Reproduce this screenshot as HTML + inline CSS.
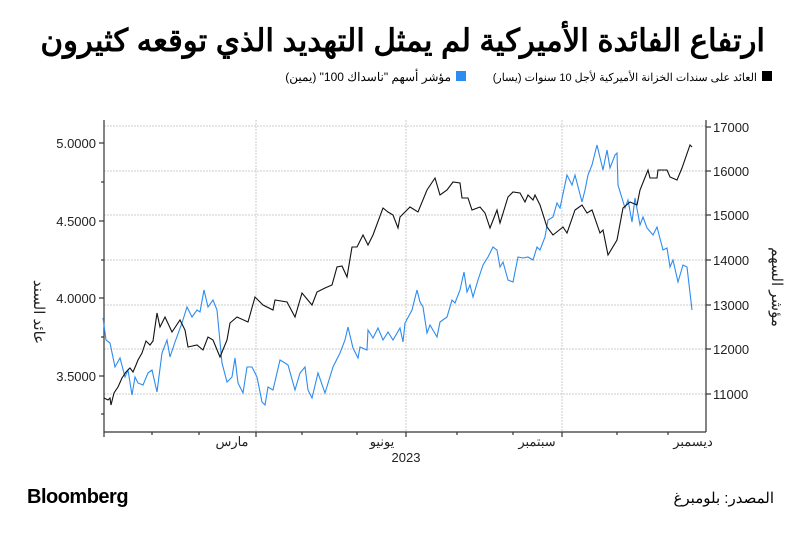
<!DOCTYPE html>
<html><head><meta charset="utf-8"><style>
body{margin:0;background:#fff;width:800px;height:535px;overflow:hidden}
svg{display:block}
text{font-family:"Liberation Sans","Noto Sans CJK SC",sans-serif}
</style></head><body>
<svg width="800" height="535" viewBox="0 0 800 535">
<text x="765" y="51" text-anchor="start" direction="rtl" font-size="30.8" font-weight="bold" fill="#000">ارتفاع الفائدة الأميركية لم يمثل التهديد الذي توقعه كثيرون</text>
<rect x="762" y="71" width="10" height="10" fill="#000"/>
<text x="757" y="81" text-anchor="start" direction="rtl" font-size="11" fill="#000">العائد على سندات الخزانة الأميركية لأجل 10 سنوات (يسار)</text>
<rect x="456" y="71" width="10" height="10" fill="#2d8cf0"/>
<text x="451" y="81" text-anchor="start" direction="rtl" font-size="12" fill="#000">مؤشر أسهم "ناسداك 100" (يمين)</text>
<g stroke="#ccc" stroke-dasharray="2,1" stroke-width="1">
<line x1="104" x2="706" y1="126" y2="126"/><line x1="104" x2="706" y1="171" y2="171"/><line x1="104" x2="706" y1="215" y2="215"/><line x1="104" x2="706" y1="260" y2="260"/><line x1="104" x2="706" y1="305" y2="305"/><line x1="104" x2="706" y1="349" y2="349"/><line x1="104" x2="706" y1="394" y2="394"/>
<line x1="256" x2="256" y1="120" y2="432"/><line x1="406" x2="406" y1="120" y2="432"/><line x1="562" x2="562" y1="120" y2="432"/>
</g>
<g stroke="#333" stroke-width="1.2" fill="none">
<line x1="104" y1="120" x2="104" y2="432"/><line x1="706" y1="120" x2="706" y2="432"/><line x1="104" y1="432" x2="706" y2="432"/>
<line x1="99" x2="104" y1="143" y2="143"/><line x1="99" x2="104" y1="221" y2="221"/><line x1="99" x2="104" y1="298" y2="298"/><line x1="99" x2="104" y1="376" y2="376"/>
<line x1="101" x2="104" y1="182" y2="182"/><line x1="101" x2="104" y1="260" y2="260"/><line x1="101" x2="104" y1="337" y2="337"/><line x1="101" x2="104" y1="414" y2="414"/>
<line x1="706" x2="711" y1="127" y2="127"/><line x1="706" x2="711" y1="171" y2="171"/><line x1="706" x2="711" y1="215" y2="215"/><line x1="706" x2="711" y1="260" y2="260"/><line x1="706" x2="711" y1="305" y2="305"/><line x1="706" x2="711" y1="349" y2="349"/><line x1="706" x2="711" y1="394" y2="394"/>
<line x1="104" x2="104" y1="432" y2="437"/><line x1="152" x2="152" y1="432" y2="435"/><line x1="199" x2="199" y1="432" y2="435"/><line x1="256" x2="256" y1="432" y2="437"/><line x1="302" x2="302" y1="432" y2="435"/><line x1="357" x2="357" y1="432" y2="435"/><line x1="406" x2="406" y1="432" y2="437"/><line x1="457" x2="457" y1="432" y2="435"/><line x1="513" x2="513" y1="432" y2="435"/><line x1="562" x2="562" y1="432" y2="437"/><line x1="617" x2="617" y1="432" y2="435"/><line x1="668" x2="668" y1="432" y2="435"/>
</g>
<g font-size="13" fill="#222">
<text x="96" y="148" text-anchor="end">5.0000</text><text x="96" y="226" text-anchor="end">4.5000</text><text x="96" y="303" text-anchor="end">4.0000</text><text x="96" y="381" text-anchor="end">3.5000</text>
<text x="713" y="132">17000</text><text x="713" y="176">16000</text><text x="713" y="220">15000</text><text x="713" y="265">14000</text><text x="713" y="310">13000</text><text x="713" y="354">12000</text><text x="713" y="399">11000</text>
<text x="232" y="446" text-anchor="middle">مارس</text><text x="382" y="446" text-anchor="middle">يونيو</text><text x="537" y="446" text-anchor="middle">سبتمبر</text><text x="693" y="446" text-anchor="middle">ديسمبر</text>
<text x="406" y="462" text-anchor="middle">2023</text>
<text transform="translate(34,312) rotate(90)" text-anchor="middle" font-size="15">عائد السند</text>
<text transform="translate(772,287) rotate(90)" text-anchor="middle" font-size="15">مؤشر السهم</text>
</g>
<polyline fill="none" stroke="#2d8cf0" stroke-width="1.1" points="103,318 106,340 110,343 115,367 120,358 125,377 128,370 132,395 135,377 138,383 143,385 148,373 152,370 157,392 162,353 167,340 170,357 175,342 182,323 187,307 192,317 197,310 200,312 204,290 208,307 213,300 217,310 222,363 227,382 232,377 235,358 238,383 243,393 247,367 252,367 257,377 262,402 265,405 268,387 273,390 280,360 285,363 288,365 295,390 300,373 305,367 308,390 312,398 318,373 325,393 333,367 340,353 345,340 348,327 353,348 358,358 360,347 367,350 368,330 373,338 378,328 383,340 388,332 393,340 400,328 403,342 405,323 412,310 417,290 420,302 423,307 427,333 430,325 437,337 440,322 447,317 452,300 455,303 460,290 464,272 467,292 470,285 473,297 478,280 483,265 488,257 493,247 497,250 500,267 503,262 508,280 513,282 518,257 523,258 528,257 533,260 537,247 540,250 545,237 548,220 553,217 557,203 560,208 567,175 572,185 575,175 582,202 585,190 588,175 592,165 597,145 603,170 607,150 610,168 615,155 617,153 618,185 625,208 628,200 632,222 635,198 640,225 643,217 647,228 653,235 657,227 663,250 667,248 670,267 673,260 678,282 683,265 687,267 692,310"/>
<polyline fill="none" stroke="#111" stroke-width="1.1" points="104,398 108,400 110,398 111,405 114,393 118,387 122,378 126,372 130,368 133,372 136,365 138,360 142,353 146,341 150,345 153,341 157,313 160,327 165,317 172,332 180,320 185,330 188,347 197,345 203,350 208,337 213,340 220,357 227,340 230,323 237,317 248,322 255,297 263,305 273,310 275,300 287,302 295,317 302,293 312,305 317,292 325,288 332,285 337,267 342,266 347,277 352,247 357,247 363,235 368,245 373,235 383,208 388,212 393,215 398,228 400,217 410,207 418,212 427,190 435,178 440,195 447,190 453,182 460,183 462,198 468,198 472,210 480,207 485,213 490,228 497,210 500,223 508,197 513,192 520,193 525,202 528,195 533,200 535,195 540,205 547,227 553,235 563,227 567,233 575,210 582,205 587,213 592,210 600,233 603,230 608,255 617,240 623,208 630,202 637,205 640,190 648,170 650,178 657,178 658,170 667,170 670,177 677,180 682,168 690,145 692,147"/>
<text x="27" y="503" font-size="20" font-weight="bold" fill="#000" letter-spacing="-0.5">Bloomberg</text>
<text x="774" y="503" text-anchor="start" direction="rtl" font-size="15" fill="#000">المصدر: بلومبرغ</text>
</svg>
</body></html>
